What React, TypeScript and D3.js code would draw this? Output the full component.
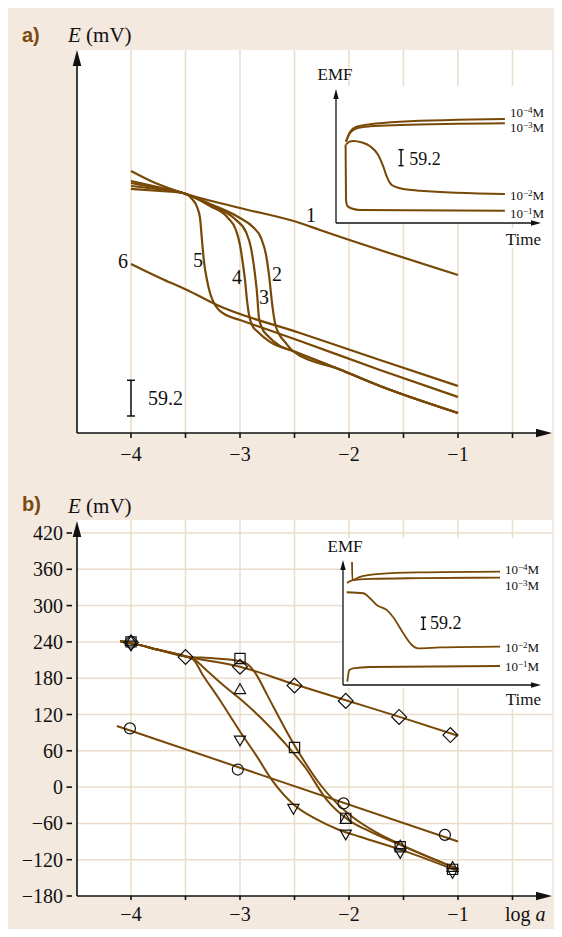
import React from "react";
import * as d3 from "d3";

type P = [number, number];

// ---------- shared axis data ----------
const logTickValues = [-4, -3, -2, -1];
const logTickLabels = ["−4", "−3", "−2", "−1"];
const logGridValues = [-4, -3.5, -3, -2.5, -2, -1.5, -1, -0.5];
const eTicksB = [-180, -120, -60, 0, 60, 120, 180, 240, 300, 360, 420];
const eTickLabelsB = ["−180", "−120", "−60", "0", "60", "120", "180", "240", "300", "360", "420"];

// ---------- panel a: E (mV, arbitrary zero) vs log a ----------
const curveA1: P[] = [[-4, 434.4], [-3.798, 416.2], [-3.523, 397.9], [-3.0, 373.1], [-2.45, 348.2], [-2.266, 336.6], [-1.0, 262.0]];
const curveA2: P[] = [[-4, 417.8], [-3.734, 407.0], [-3.523, 397.9], [-3.275, 379.7], [-3.0, 356.5], [-2.881, 341.5], [-2.807, 323.3], [-2.761, 295.1], [-2.734, 262.0], [-2.706, 215.5], [-2.679, 182.4], [-2.642, 164.1], [-2.587, 150.9], [-2.514, 135.9], [-2.083, 105.2], [-1.716, 77.9], [-1.0, 33.2]];
const curveA3: P[] = [[-4, 414.5], [-3.734, 405.4], [-3.523, 397.9], [-3.275, 378.0], [-3.046, 354.8], [-2.945, 333.3], [-2.899, 306.7], [-2.862, 262.0], [-2.844, 232.1], [-2.826, 190.7], [-2.798, 174.1], [-2.743, 160.8], [-2.633, 144.3], [-2.514, 135.9], [-2.083, 105.2], [-1.716, 77.9], [-1.0, 33.2]];
const curveA4: P[] = [[-4, 409.5], [-3.734, 403.7], [-3.523, 397.9], [-3.275, 376.4], [-3.11, 356.5], [-3.037, 336.6], [-3.0, 311.7], [-2.972, 278.5], [-2.954, 253.7], [-2.936, 220.5], [-2.917, 195.6], [-2.89, 179.1], [-2.835, 167.5], [-2.725, 151.2], [-2.514, 135.9], [-2.083, 105.2], [-1.716, 77.9], [-1.0, 33.2]];
const curveA5: P[] = [[-4, 404.6], [-3.734, 401.2], [-3.523, 397.9], [-3.44, 388.0], [-3.394, 374.7], [-3.367, 356.5], [-3.349, 320.0], [-3.33, 283.5], [-3.303, 253.7], [-3.275, 232.1], [-3.239, 215.5], [-3.193, 203.9], [-3.128, 195.6], [-3.0, 187.4], [-2.45, 152.5], [-1.716, 104.5], [-1.0, 59.7]];
const curveA6: P[] = [[-4, 280.2], [-3.734, 257.0], [-3.486, 237.1], [-3.211, 212.2], [-2.45, 165.8], [-1.716, 121.0], [-1.0, 77.9]];
const curvesA = [curveA1, curveA2, curveA3, curveA4, curveA5, curveA6];
const curveLabelsA = ["1", "2", "3", "4", "5", "6"];
const curveLabelPosA: P[] = [[-2.349, 361.4], [-2.661, 263.6], [-2.78, 225.5], [-3.028, 258.6], [-3.385, 286.8], [-4.073, 285.2]];
const scaleBarA = { x: -4, e0: 28.2, len: 59.2, label: "59.2" };

// ---------- inset a: EMF (mV) vs time ----------
const insetLabels = ["−4", "−3", "−2", "−1"];
const insetA_m4: P[] = [[4.9, 300.8], [6.9, 337.8], [10.1, 356.3], [16.7, 365.2], [31.4, 374.8], [82.8, 384.8]];
const insetA_m3: P[] = [[4.9, 300.8], [6.9, 333], [10.1, 350.4], [16.7, 357.8], [31.4, 362.6], [82.8, 368.9]];
const insetA_m2: P[] = [[4.9, 290], [6.4, 300], [8.5, 303.4], [12.7, 298], [16.7, 284], [20.7, 251.6], [23.2, 208.3], [24.9, 171.3], [27.3, 140.6], [31.4, 128.4], [41.2, 119.5], [82.8, 107.3]];
const insetA_m1: P[] = [[4.7, 290], [4.9, 85], [5.6, 63], [7.8, 53.7], [11.8, 48.1], [82.8, 45.5]];
const insetA_curves = [insetA_m4, insetA_m3, insetA_m2, insetA_m1];
const insetA_labelPos: P[] = [[85.3, 411], [85.3, 356], [85.3, 103.6], [85.3, 37]];
const insetA_bar = { t: 31.9, e0: 212, len: 59.2, label: "59.2", labelT: 35.9, labelE: 235.7 };

// ---------- inset b ----------
const insetB_m4: P[] = [[4.57, 606.4], [4.77, 517.7], [8.63, 532.4], [18.8, 547.2], [39.1, 554.6], [79.7, 558.6]];
const insetB_m3: P[] = [[2.03, 502.9], [4.57, 515.2], [13.7, 522.6], [39.1, 526.5], [79.7, 529]];
const insetB_m2: P[] = [[1.88, 457], [10.3, 452.1], [13.7, 427.4], [17.1, 394.4], [22.2, 369.8], [25.5, 333.8], [30.6, 254.9], [34.9, 197.2], [38.2, 180.9], [49.2, 184.9], [79.7, 188.8]];
const insetB_m1: P[] = [[2.2, 16.3], [3.2, 74], [5.2, 82.3], [13.7, 88.7], [79.7, 93.7]];
const insetB_curves = [insetB_m4, insetB_m3, insetB_m2, insetB_m1];
const insetB_labelPos: P[] = [[82.2, 572], [82.2, 493], [82.2, 188.8], [82.2, 93.7]];
const insetB_bar = { t: 40.8, e0: 274.6, len: 59.2, label: "59.2", labelT: 44.2, labelE: 304.2 };

// ---------- panel b: measured points and fitted lines ----------
const bDiamonds: P[] = [[-4, 239], [-3.5, 215], [-3, 199], [-2.5, 168], [-2.03, 142.5], [-1.54, 116], [-1.07, 86]];
const bSquares: P[] = [[-4, 240], [-3, 212.5], [-2.5, 65.5], [-2.03, -51.7], [-1.53, -98.6], [-1.05, -136]];
const bTriUp: P[] = [[-4, 240], [-3, 160], [-2.03, -54.5], [-1.53, -98.6], [-1.05, -134]];
const bTriDown: P[] = [[-4, 236], [-3, 79], [-2.51, -34], [-2.03, -76.5], [-1.53, -107], [-1.05, -140]];
const bCircles: P[] = [[-4.01, 97], [-3.02, 29], [-2.05, -27], [-1.12, -79]];

const bLineD: P[] = [[-4.1, 241], [-4, 238], [-3.75, 227], [-3.5, 216], [-3, 199], [-2.5, 170], [-2, 142], [-1.5, 114], [-1, 85]];
const bLineC: P[] = [[-4.1, 241], [-4, 238], [-3.75, 227], [-3.5, 216], [-3.25, 213], [-3, 208], [-2.93, 203], [-2.85, 186], [-2.75, 152], [-2.5, 69], [-2.25, 1], [-2, -45], [-1.75, -75], [-1.5, -97], [-1, -135]];
const bLineB: P[] = [[-4.1, 241], [-4, 238], [-3.75, 227], [-3.5, 216], [-3.43, 212], [-3.3, 192], [-3.15, 168], [-3, 146], [-2.8, 113], [-2.6, 75], [-2.4, 32], [-2.2, -22], [-2, -55], [-1.8, -74], [-1.5, -98], [-1, -136]];
const bLineA: P[] = [[-4.1, 241], [-4, 238], [-3.75, 227], [-3.5, 216], [-3.43, 211], [-3.34, 185], [-3.2, 148], [-3, 92], [-2.85, 52], [-2.7, 10], [-2.5, -30], [-2.3, -53], [-2.1, -70], [-1.9, -82], [-1.5, -105], [-1, -139]];
const bLineO: P[] = [[-4.13, 101], [-1, -90]];
const bLines = [bLineD, bLineC, bLineB, bLineA, bLineO];

// ---------- styling ----------
const BG = "#f3e9df";
const GRID = "#ecdcca";
const BROWN = "#774806";
const LABEL_BROWN = "#7a4a10";
const SERIF = "'Liberation Serif', 'Times New Roman', serif";
const SANS = "'Liberation Sans', Arial, sans-serif";

const InsetLabel = ({ x, y, exp }: { x: number; y: number; exp: string }) => (
  <text x={x} y={y} fontFamily={SERIF} fontSize={13} fill="#111">
    10<tspan fontSize={9} dy={-4}>{exp}</tspan><tspan fontSize={13} dy={4}>M</tspan>
  </text>
);

const ScaleBar = ({ x, y0, y1, w }: { x: number; y0: number; y1: number; w: number }) => (
  <g stroke="#111" strokeWidth={1.5}>
    <line x1={x} x2={x} y1={y0} y2={y1} />
    <line x1={x - w} x2={x + w} y1={y0} y2={y0} />
    <line x1={x - w} x2={x + w} y1={y1} y2={y1} />
  </g>
);

export default function App() {
  const x = d3.scaleLinear().domain([-4.5, 0]).range([76.5, 567]);
  const yA = d3.scaleLinear().domain([0, 635]).range([433, 50]);
  const yB = d3.scaleLinear().domain([-180, 420]).range([896, 533]);

  const lineA = d3.line<P>().x((d) => x(d[0])).y((d) => yA(d[1])).curve(d3.curveMonotoneX);
  const lineB = d3.line<P>().x((d) => x(d[0])).y((d) => yB(d[1])).curve(d3.curveMonotoneX);

  const iaX = d3.scaleLinear().domain([0, 100]).range([336, 540]);
  const iaY = d3.scaleLinear().domain([0, 492]).range([223, 90]);
  const ibX = d3.scaleLinear().domain([0, 100]).range([343, 540]);
  const ibY = d3.scaleLinear().domain([0, 606]).range([685, 562]);
  const lineIA = d3.line<P>().x((d) => iaX(d[0])).y((d) => iaY(d[1])).curve(d3.curveMonotoneX);
  const lineIB = d3.line<P>().x((d) => ibX(d[0])).y((d) => ibY(d[1])).curve(d3.curveMonotoneX);

  const sq = d3.symbol(d3.symbolSquare, 110)()!;
  const tri = d3.symbol(d3.symbolTriangle, 55)()!;
  const circ = d3.symbol(d3.symbolCircle, 95)()!;

  const markerSets: { pts: P[]; path: string; rot: number }[] = [
    { pts: bCircles, path: circ, rot: 0 },
    { pts: bDiamonds, path: sq, rot: 45 },
    { pts: bSquares, path: d3.symbol(d3.symbolSquare, 105)()!, rot: 0 },
    { pts: bTriUp, path: tri, rot: 0 },
    { pts: bTriDown, path: tri, rot: 180 },
  ];

  const aTop = 50, aBot = 433, bTop = 520, bBot = 896, left = 77, right = 552;

  return (
    <svg width={562} height={937} style={{ position: "absolute", left: 0, top: 0, display: "block" }}>
      <rect x={0} y={0} width={562} height={937} fill="#fff" />
      <rect x={8} y={8} width={546} height={921} fill={BG} />

      {/* ================= PANEL A ================= */}
      <rect x={left} y={aTop} width={right - left} height={aBot - aTop} fill="#fff" />
      {logGridValues.map((v) => (
        <line key={"ga" + v} x1={x(v)} x2={x(v)} y1={aTop} y2={aBot} stroke={GRID} strokeWidth={1.5} />
      ))}
      <rect x={336} y={86} width={216} height={138} fill="#fff" />
      <rect x={503} y={228} width={40} height={20} fill="#fff" />

      {curvesA.map((c, i) => (
        <path key={"ca" + i} d={lineA(c)!} fill="none" stroke={BROWN} strokeWidth={2.2} />
      ))}
      {curveLabelsA.map((t, i) => (
        <text key={"la" + i} x={x(curveLabelPosA[i][0])} y={yA(curveLabelPosA[i][1]) + 7} fontFamily={SERIF} fontSize={20} textAnchor="middle" fill="#111">{t}</text>
      ))}
      <ScaleBar x={x(scaleBarA.x)} y0={yA(scaleBarA.e0)} y1={yA(scaleBarA.e0 + scaleBarA.len)} w={4} />
      <text x={x(scaleBarA.x) + 17} y={(yA(scaleBarA.e0) + yA(scaleBarA.e0 + scaleBarA.len)) / 2 + 7} fontFamily={SERIF} fontSize={20} fill="#111">{scaleBarA.label}</text>

      {/* inset a */}
      {insetA_curves.map((c, i) => (
        <path key={"ia" + i} d={lineIA(c)!} fill="none" stroke={BROWN} strokeWidth={2} />
      ))}
      {insetA_labelPos.map((p, i) => (
        <InsetLabel key={"ial" + i} x={iaX(p[0])} y={iaY(p[1]) + 5} exp={insetLabels[i]} />
      ))}
      <ScaleBar x={iaX(insetA_bar.t)} y0={iaY(insetA_bar.e0)} y1={iaY(insetA_bar.e0 + insetA_bar.len)} w={2.5} />
      <text x={iaX(insetA_bar.labelT)} y={iaY(insetA_bar.labelE) + 6} fontFamily={SERIF} fontSize={18} fill="#111">{insetA_bar.label}</text>
      <g stroke="#111" strokeWidth={1.3}>
        <line x1={336} x2={336} y1={223} y2={97} />
        <line x1={336} x2={533} y1={223} y2={223} />
      </g>
      <path d="M336,89 L333.3,99 L338.7,99 Z" fill="#111" />
      <path d="M541,223 L531,220.3 L531,225.7 Z" fill="#111" />
      <text x={335} y={80} textAnchor="middle" fontFamily={SERIF} fontSize={17} fill="#111">EMF</text>
      <text x={541} y={245} textAnchor="end" fontFamily={SERIF} fontSize={17} fill="#111">Time</text>

      {/* axes a */}
      <g stroke="#111" strokeWidth={1.6}>
        <line x1={left} x2={left} y1={aBot} y2={62} />
        <line x1={left} x2={540} y1={aBot} y2={aBot} />
        {logGridValues.map((v) => (
          <line key={"ta" + v} x1={x(v)} x2={x(v)} y1={aBot} y2={aBot + 5} />
        ))}
      </g>
      <path d={`M${left},50 L${left - 4.3},66 L${left + 4.3},66 Z`} fill="#111" />
      <path d={`M552,${aBot} L536,${aBot - 4.3} L536,${aBot + 4.3} Z`} fill="#111" />
      {logTickValues.map((v, i) => (
        <text key={"xa" + v} x={x(v)} y={461} textAnchor="middle" fontFamily={SERIF} fontSize={20} fill="#111">{logTickLabels[i]}</text>
      ))}
      <text x={22} y={42} fontFamily={SANS} fontWeight="bold" fontSize={20} fill={LABEL_BROWN}>a)</text>
      <text x={68} y={42} fontFamily={SERIF} fontSize={21} fill="#111"><tspan fontStyle="italic">E</tspan> (mV)</text>

      {/* ================= PANEL B ================= */}
      <rect x={left} y={bTop} width={right - left} height={bBot - bTop} fill="#fff" />
      {logGridValues.map((v) => (
        <line key={"gbx" + v} x1={x(v)} x2={x(v)} y1={bTop} y2={bBot} stroke={GRID} strokeWidth={1.5} />
      ))}
      {eTicksB.filter((v) => v > -180).map((v) => (
        <line key={"gby" + v} x1={left} x2={right} y1={yB(v)} y2={yB(v)} stroke={GRID} strokeWidth={1.5} />
      ))}
      <rect x={343} y={538} width={209} height={150} fill="#fff" />
      <rect x={502} y={689} width={41} height={20} fill="#fff" />

      {bLines.map((c, i) => (
        <path key={"lb" + i} d={lineB(c)!} fill="none" stroke={BROWN} strokeWidth={2} />
      ))}
      {markerSets.map((m, j) =>
        m.pts.map((p, i) => (
          <path key={"m" + j + "_" + i} d={m.path} transform={`translate(${x(p[0])},${yB(p[1])}) rotate(${m.rot})`} fill="none" stroke="#111" strokeWidth={1.2} />
        ))
      )}

      {/* inset b */}
      {insetB_curves.map((c, i) => (
        <path key={"ib" + i} d={lineIB(c)!} fill="none" stroke={BROWN} strokeWidth={1.8} />
      ))}
      {insetB_labelPos.map((p, i) => (
        <InsetLabel key={"ibl" + i} x={ibX(p[0])} y={ibY(p[1]) + 5} exp={insetLabels[i]} />
      ))}
      <ScaleBar x={ibX(insetB_bar.t)} y0={ibY(insetB_bar.e0)} y1={ibY(insetB_bar.e0 + insetB_bar.len)} w={2.5} />
      <text x={ibX(insetB_bar.labelT)} y={ibY(insetB_bar.labelE) + 6} fontFamily={SERIF} fontSize={18} fill="#111">{insetB_bar.label}</text>
      <g stroke="#111" strokeWidth={1.3}>
        <line x1={343} x2={343} y1={685} y2={569} />
        <line x1={343} x2={533} y1={685} y2={685} />
      </g>
      <path d="M343,560 L340.3,570 L345.7,570 Z" fill="#111" />
      <path d="M541,685 L531,682.3 L531,687.7 Z" fill="#111" />
      <text x={345} y={552} textAnchor="middle" fontFamily={SERIF} fontSize={17} fill="#111">EMF</text>
      <text x={541} y={705} textAnchor="end" fontFamily={SERIF} fontSize={17} fill="#111">Time</text>

      {/* axes b */}
      <g stroke="#111" strokeWidth={1.6}>
        <line x1={left} x2={left} y1={bBot} y2={533} />
        <line x1={left} x2={538} y1={bBot} y2={bBot} />
        {logGridValues.map((v) => (
          <line key={"tb" + v} x1={x(v)} x2={x(v)} y1={bBot} y2={bBot + 4} />
        ))}
        {eTicksB.map((v) => (
          <line key={"tby" + v} x1={66.5} x2={72} y1={yB(v)} y2={yB(v)} />
        ))}
      </g>
      <path d={`M${left},521 L${left - 4.3},537 L${left + 4.3},537 Z`} fill="#111" />
      <path d={`M552,${bBot} L536,${bBot - 4.3} L536,${bBot + 4.3} Z`} fill="#111" />
      {eTicksB.map((v, i) => (
        <text key={"yb" + v} x={63} y={yB(v) + 7} textAnchor="end" fontFamily={SERIF} fontSize={20} fill="#111">{eTickLabelsB[i]}</text>
      ))}
      {logTickValues.map((v, i) => (
        <text key={"xb" + v} x={x(v)} y={921} textAnchor="middle" fontFamily={SERIF} fontSize={20} fill="#111">{logTickLabels[i]}</text>
      ))}
      <text x={505} y={921} fontFamily={SERIF} fontSize={20} fill="#111">log <tspan fontStyle="italic">a</tspan></text>
      <text x={22} y={511} fontFamily={SANS} fontWeight="bold" fontSize={20} fill={LABEL_BROWN}>b)</text>
      <text x={68} y={513} fontFamily={SERIF} fontSize={21} fill="#111"><tspan fontStyle="italic">E</tspan> (mV)</text>
    </svg>
  );
}
